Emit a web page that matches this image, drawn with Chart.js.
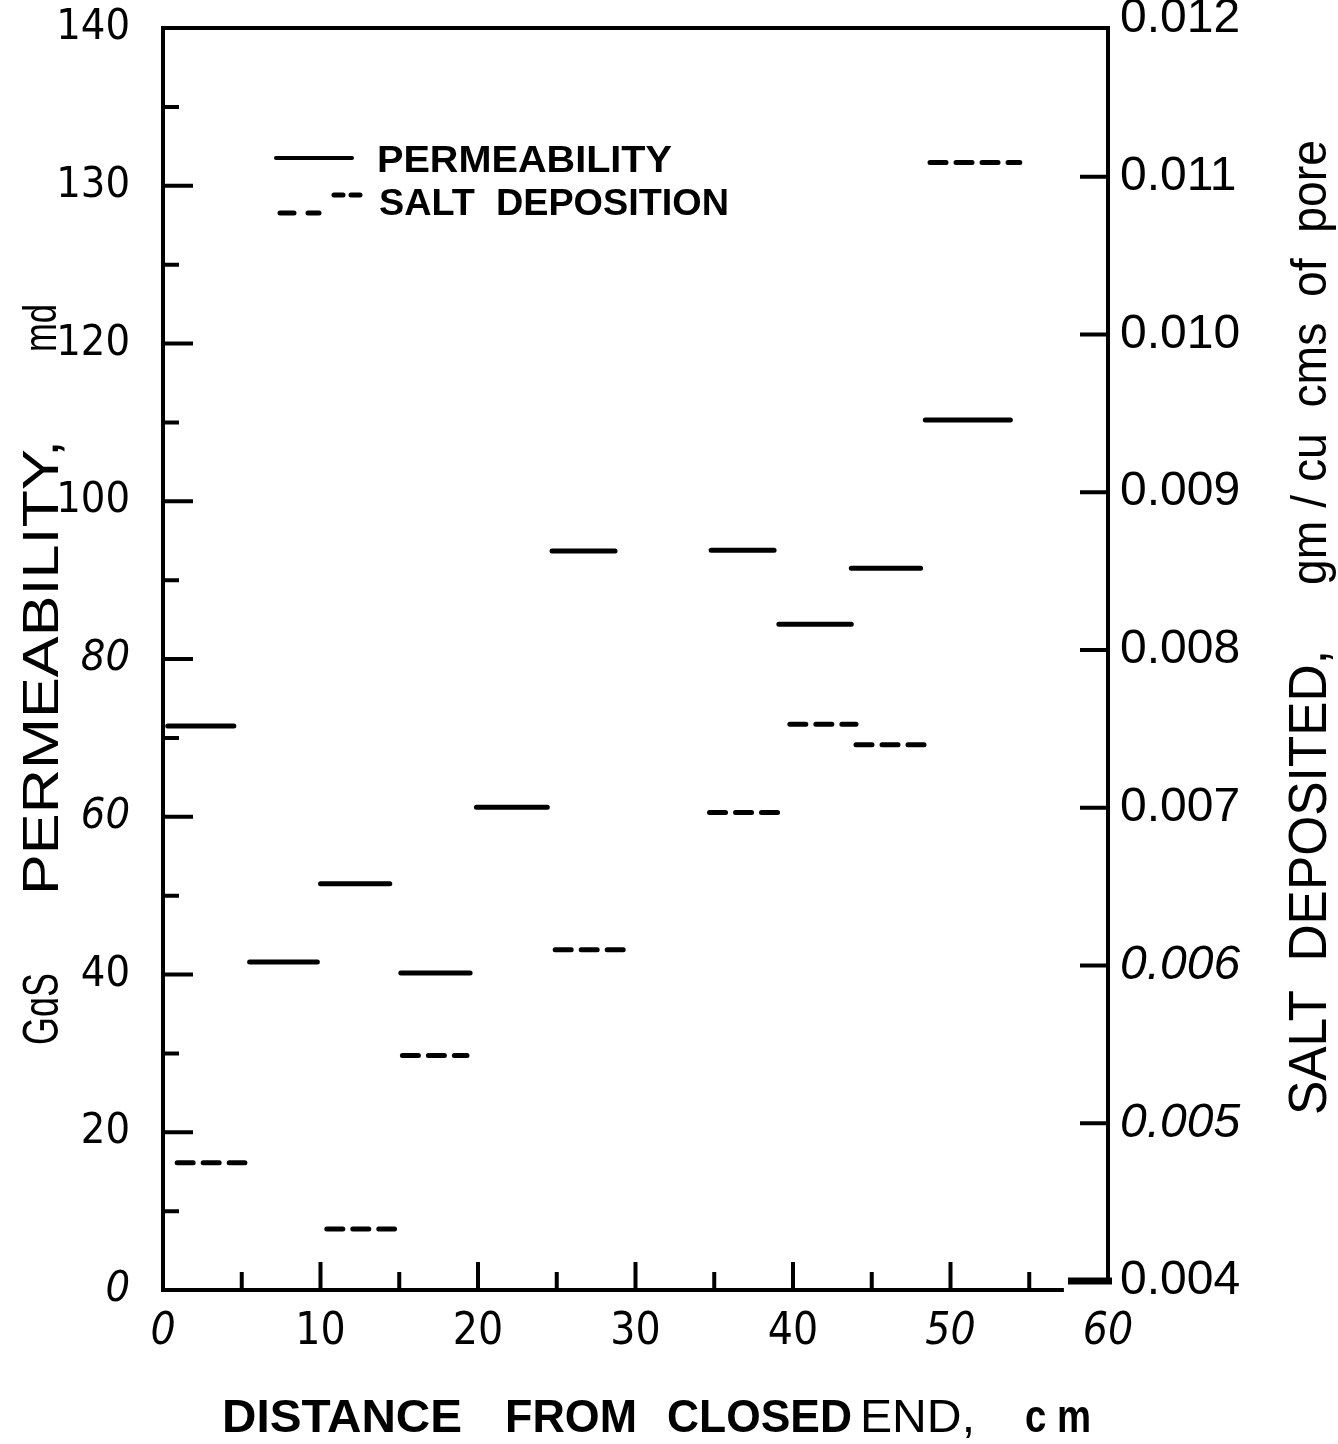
<!DOCTYPE html>
<html>
<head>
<meta charset="utf-8">
<script src="https://cdn.jsdelivr.net/npm/chart.js@4.4.0/dist/chart.umd.min.js"></script>
<style>html,body{margin:0;padding:0;background:#fff}canvas{display:block}</style>
</head>
<body>
<canvas id="c" width="1338" height="1444"></canvas>
<script>
// ---- data (distance in cm along the core) ----
const permStart = [0.3, 5.5, 10.0, 15.1, 19.9, 24.7, 34.8, 39.1, 43.7, 48.4];
const permEnd   = [4.5, 9.8, 14.4, 19.5, 24.4, 28.7, 38.8, 43.7, 48.1, 53.8];
const permValue = [71.5, 41.6, 51.5, 40.2, 61.2, 93.7, 93.8, 84.4, 91.5, 110.3];

const saltStart = [0.9, 10.4, 15.2, 24.9, 34.7, 39.8, 44.0, 48.7];
const saltEnd   = [5.2, 14.7, 19.3, 29.5, 39.1, 44.0, 48.7, 54.4];
const saltValue = [0.00475, 0.00433, 0.00543, 0.00610, 0.00697, 0.00753, 0.00740, 0.01109];

// ---- tick labels ----
const xLabelValues = [0, 10, 20, 30, 40, 50, 60];
const xLabels      = ['0', '10', '20', '30', '40', '50', '60'];
const xMajorMarks  = [10, 20, 30, 40, 50];
const xMinorMarks  = [5, 15, 25, 35, 45, 55];

const leftLabelValues = [0, 20, 40, 60, 80, 100, 120, 140, 160];
const leftLabels      = ['0', '20', '40', '60', '80', '100', '120', '130', '140'];
const leftMajorMarks  = [20, 40, 60, 80, 100, 120, 140];
const leftMinorMarks  = [10, 30, 50, 70, 90, 110, 130, 150];

const rightLabelValues = [0.004, 0.005, 0.006, 0.007, 0.008, 0.009, 0.010, 0.011, 0.012];
const rightLabels      = ['0.004', '0.005', '0.006', '0.007', '0.008', '0.009', '0.010', '0.011', '0.012'];
const rightMarks       = [0.005, 0.006, 0.007, 0.008, 0.009, 0.010, 0.011];

const xItalic = [0, 50, 60];
const leftItalic = [0, 60, 80];
const rightItalic = [0.005, 0.006];

const FAM = "'Liberation Sans', Arial, sans-serif";
const NARROW = "'Liberation Sans Narrow', 'DejaVu Sans Condensed', 'Liberation Sans', Arial, sans-serif";

function segments(starts, ends, vals) {
  const d = [];
  starts.forEach((s, i) => {
    d.push({x: s, y: vals[i]}, {x: ends[i], y: vals[i]}, {x: ends[i], y: null});
  });
  return d;
}

function fitText(ctx, text, x, y, len, font, rot) {
  ctx.save();
  ctx.font = font;
  const w = ctx.measureText(text).width;
  ctx.translate(x, y);
  ctx.rotate(rot || 0);
  ctx.scale(len / w, 1);
  ctx.textAlign = 'left';
  ctx.textBaseline = 'alphabetic';
  ctx.fillText(text, 0, 0);
  ctx.restore();
}

const decor = {
  id: 'decor',
  afterDraw(chart) {
    const {ctx, chartArea: a, scales: {x, y, y2}} = chart;
    ctx.save();
    ctx.strokeStyle = '#000';
    ctx.fillStyle = '#000';
    ctx.lineWidth = 4;
    ctx.lineCap = 'butt';
    // frame
    ctx.beginPath();
    ctx.moveTo(a.left - 2, a.top); ctx.lineTo(a.right + 2, a.top);
    ctx.moveTo(a.left, a.top); ctx.lineTo(a.left, a.bottom + 2);
    ctx.moveTo(a.right, a.top); ctx.lineTo(a.right, a.bottom - 6);
    ctx.moveTo(a.left, a.bottom); ctx.lineTo(x.getPixelForValue(57.2), a.bottom);
    ctx.stroke();
    // x tick marks (inward)
    ctx.beginPath();
    xMajorMarks.forEach(v => { const p = x.getPixelForValue(v); ctx.moveTo(p, a.bottom); ctx.lineTo(p, a.bottom - 28); });
    xMinorMarks.forEach(v => { const p = x.getPixelForValue(v); ctx.moveTo(p, a.bottom); ctx.lineTo(p, a.bottom - 18); });
    // left tick marks
    leftMajorMarks.forEach(v => { const p = y.getPixelForValue(v); ctx.moveTo(a.left, p); ctx.lineTo(a.left + 30, p); });
    leftMinorMarks.forEach(v => { const p = y.getPixelForValue(v); ctx.moveTo(a.left, p); ctx.lineTo(a.left + 16, p); });
    // right tick marks
    rightMarks.forEach(v => { const p = y2.getPixelForValue(v); ctx.moveTo(a.right, p); ctx.lineTo(a.right - 28, p); });
    ctx.stroke();
    ctx.lineWidth = 7;
    ctx.beginPath();
    const p4 = y2.getPixelForValue(0.004);
    ctx.moveTo(a.right + 4, p4); ctx.lineTo(a.right - 40, p4);
    ctx.stroke();

    // legend
    ctx.lineCap = 'round';
    ctx.lineWidth = 4;
    ctx.beginPath(); ctx.moveTo(276, 158); ctx.lineTo(352, 158); ctx.stroke();
    ctx.lineWidth = 5;
    ctx.beginPath();
    ctx.moveTo(280, 213); ctx.lineTo(294, 213);
    ctx.moveTo(308, 213); ctx.lineTo(319, 213);
    ctx.moveTo(334, 195); ctx.lineTo(343, 195);
    ctx.moveTo(351, 195); ctx.lineTo(360, 195);
    ctx.stroke();
    fitText(ctx, 'PERMEABILITY', 377, 172, 295, 'bold 37px ' + FAM);
    fitText(ctx, 'SALT  DEPOSITION', 379, 215, 350, 'bold 37px ' + FAM);

    // x axis title
    const xb = 1432;
    fitText(ctx, 'DISTANCE', 222, xb, 240, 'bold 46px ' + FAM);
    fitText(ctx, 'FROM', 505, xb, 132, 'bold 46px ' + FAM);
    fitText(ctx, 'CLOSED', 667, xb, 185, 'bold 46px ' + FAM);
    fitText(ctx, 'END,', 860, xb, 115, '46px ' + FAM);
    fitText(ctx, 'c m', 1025, xb, 66, 'bold 46px ' + FAM);

    // left axis title (rotated)
    const r = -Math.PI / 2;
    fitText(ctx, 'GɑS', 58, 1045, 72, '50px ' + FAM, r);
    fitText(ctx, 'PERMEABILITY,', 58, 895, 455, '50px ' + FAM, r);
    fitText(ctx, 'md', 56, 352, 48, '46px ' + FAM, r);

    // right axis title (rotated)
    fitText(ctx, 'SALT  DEPOSITED,', 1326, 1115, 465, '54px ' + FAM, r);
    fitText(ctx, 'gm / cu  cms  of  pore', 1326, 585, 445, '50px ' + FAM, r);
    ctx.restore();
  }
};

const lookup = (vals, labels) => (v) => { const i = vals.findIndex(t => Math.abs(t - v) < 1e-9); return i >= 0 ? labels[i] : ''; };
const fontFor = (size, italics, fam) => (ctx) => ({
  family: fam, size: size,
  style: (ctx.tick && italics.some(t => Math.abs(t - ctx.tick.value) < 1e-9)) ? 'italic' : 'normal'
});
const noPad = s => { s.paddingTop = 0; s.paddingBottom = 0; s.paddingLeft = 0; s.paddingRight = 0; };

new Chart(document.getElementById('c'), {
  type: 'line',
  data: {
    datasets: [
      {
        label: 'PERMEABILITY',
        data: segments(permStart, permEnd, permValue),
        yAxisID: 'y',
        borderColor: '#000',
        borderWidth: 5,
        borderCapStyle: 'round',
        pointRadius: 0,
        spanGaps: false,
        tension: 0
      },
      {
        label: 'SALT DEPOSITION',
        data: segments(saltStart, saltEnd, saltValue),
        yAxisID: 'y2',
        borderColor: '#000',
        borderWidth: 5,
        borderCapStyle: 'round',
        borderDash: [16, 10],
        pointRadius: 0,
        spanGaps: false,
        tension: 0
      }
    ]
  },
  options: {
    responsive: false,
    animation: false,
    devicePixelRatio: 1,
    layout: {padding: {top: 28, left: 0, right: 0, bottom: 0}},
    plugins: {legend: {display: false}, tooltip: {enabled: false}},
    scales: {
      x: {
        type: 'linear', position: 'bottom', min: 0, max: 60,
        afterBuildTicks: s => { s.ticks = xLabelValues.map(v => ({value: v})); },
        ticks: {callback: lookup(xLabelValues, xLabels), font: fontFor(44, xItalic, NARROW), color: '#000', padding: 16, maxRotation: 0, autoSkip: false},
        grid: {display: false, drawTicks: false},
        border: {display: false},
        afterFit: s => { s.height = 154; noPad(s); }
      },
      y: {
        type: 'linear', position: 'left', min: 0, max: 160,
        afterBuildTicks: s => { s.ticks = leftLabelValues.map(v => ({value: v})); },
        ticks: {callback: lookup(leftLabelValues, leftLabels), font: fontFor(43, leftItalic, NARROW), color: '#000', padding: 33, autoSkip: false},
        grid: {display: false, drawTicks: false},
        border: {display: false},
        afterFit: s => { s.width = 163; noPad(s); }
      },
      y2: {
        type: 'linear', position: 'right', min: 0.003943, max: 0.011943,
        afterBuildTicks: s => { s.ticks = rightLabelValues.map(v => ({value: v})); },
        ticks: {callback: lookup(rightLabelValues, rightLabels), font: fontFor(48, rightItalic, FAM), color: '#000', padding: 12, autoSkip: false},
        grid: {display: false, drawTicks: false},
        border: {display: false},
        afterFit: s => { s.width = 230; noPad(s); }
      }
    }
  },
  plugins: [decor]
});
</script>
</body>
</html>
